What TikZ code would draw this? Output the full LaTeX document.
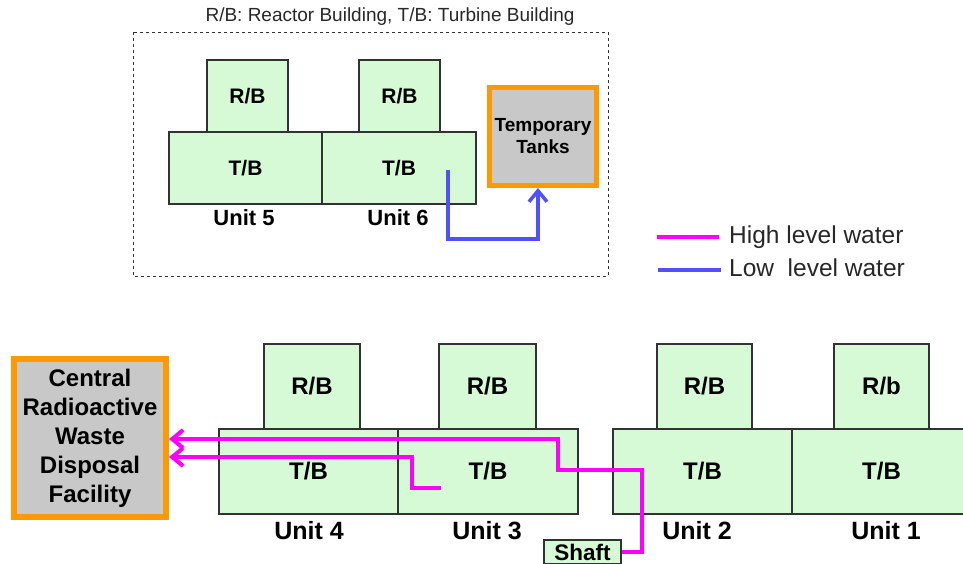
\documentclass[tikz,border=0pt]{standalone}
\usepackage{fontspec}
\setmainfont{Liberation Sans}
\usetikzlibrary{arrows.meta,calc}
\definecolor{bgreen}{RGB}{214,250,214}
\definecolor{edgegray}{RGB}{50,50,50}
\definecolor{tankgray}{RGB}{200,200,200}
\definecolor{orng}{RGB}{255,153,0}
\definecolor{mag}{RGB}{255,0,255}
\definecolor{lblue}{RGB}{80,80,255}
\definecolor{txtgray}{RGB}{40,40,40}
\tikzset{
  bld/.style={draw=edgegray, fill=bgreen, line width=1.2pt, inner sep=0pt, font=\bfseries\fontsize{#1}{#1}\selectfont},
  bld/.default=21,
  tank/.style={draw=orng, fill=tankgray, inner sep=0pt, align=center, font=\bfseries\fontsize{#1}{#1}\selectfont},
  ulabel/.style={font=\bfseries\fontsize{#1}{#1}\selectfont, inner sep=0pt},
  highw/.style={draw=mag, line width=4pt},
  loww/.style={draw=lblue, line width=3.5pt},
  barb/.style={-{Straight Barb[length=11pt,width=18pt]}},
}
\begin{document}
\begin{tikzpicture}[x=1pt,y=-1pt]
\useasboundingbox (0,0) rectangle (963,564);
\clip (0,0) rectangle (963,564);
\fill[white] (0,0) rectangle (963,564);

% ---- top: units 5 and 6 ----
\node[inner sep=0pt, text=txtgray, font=\fontsize{19}{19}\selectfont] (title) at (390,17) {R/B: Reactor Building, T/B: Turbine Building};
\draw[dashed, edgegray, line width=0.8pt] (133,32) rectangle (608,276);

\node[bld, minimum width=153pt, minimum height=72pt] (u5tb) at (245.5,168) {T/B};
\node[bld, minimum width=81pt, minimum height=72pt] (u5rb) at (247.5,96) {R/B};
\node[bld, minimum width=154pt, minimum height=72pt] (u6tb) at (399,168) {T/B};
\node[bld, minimum width=81pt, minimum height=72pt] (u6rb) at (399.5,96) {R/B};
\node[ulabel=22] (u5) at (244,218) {Unit 5};
\node[ulabel=22] (u6) at (398,218) {Unit 6};

\node[tank=19, line width=5pt, minimum width=107pt, minimum height=98pt] (tank) at (543,136.5) {Temporary\\[3pt]Tanks};

\coordinate (lowstart) at (448,170);
\draw[loww, barb] (lowstart) -- (448,239) -- (538,239) -- (538,239 |- tank.south);

% ---- legend ----
\coordinate (lh1) at (657,237);
\coordinate (lh2) at (719,237);
\coordinate (ll1) at (658,270);
\coordinate (ll2) at (721,270);
\draw[highw] (lh1) -- (lh2);
\draw[loww] (ll1) -- (ll2);
\node[anchor=west, inner sep=0pt, text=txtgray, font=\fontsize{24.5}{24.5}\selectfont] (lht) at (729,237) {High level water};
\node[anchor=west, inner sep=0pt, text=txtgray, font=\fontsize{24.5}{24.5}\selectfont] (llt) at (729,268) {Low\ \ level water};

% ---- bottom: units 1-4 ----
\node[tank=24, line width=6pt, minimum width=152pt, minimum height=158pt] (crw) at (90,438) {Central\\[5pt]Radioactive\\[5pt]Waste\\[5pt]Disposal\\[5pt]Facility};

\node[bld=24, minimum width=179pt, minimum height=85pt] (u4tb) at (308.5,471.5) {T/B};
\node[bld=24, minimum width=96pt, minimum height=85pt] (u4rb) at (312,386.5) {R/B};
\node[bld=24, minimum width=180pt, minimum height=85pt] (u3tb) at (488,471.5) {T/B};
\node[bld=24, minimum width=97pt, minimum height=85pt] (u3rb) at (487.5,386.5) {R/B};
\node[bld=24, minimum width=179pt, minimum height=85pt] (u2tb) at (702.5,471.5) {T/B};
\node[bld=24, minimum width=95pt, minimum height=85pt] (u2rb) at (704.5,386.5) {R/B};
\node[bld=24, minimum width=179pt, minimum height=85pt] (u1tb) at (881.5,471.5) {T/B};
\node[bld=24, minimum width=95pt, minimum height=85pt] (u1rb) at (881.5,386.5) {R/b};

\node[ulabel=25] (u4) at (309,531) {Unit 4};
\node[ulabel=25] (u3) at (487,531) {Unit 3};
\node[ulabel=25] (u2) at (697,531) {Unit 2};
\node[ulabel=25] (u1) at (886,531) {Unit 1};

\node[bld=22.5, minimum width=77pt, minimum height=24pt] (shaft) at (582.5,552) {Shaft};

\draw[highw, barb] (shaft.east) -- (642,552) -- (642,470) -- (558,470) -- (558,439) -- (558,439 -| crw.east);
\coordinate (hstart) at (441,488);
\draw[highw, barb] (hstart) -- (412,488) -- (412,457) -- (412,457 -| crw.east);
\end{tikzpicture}
\end{document}
